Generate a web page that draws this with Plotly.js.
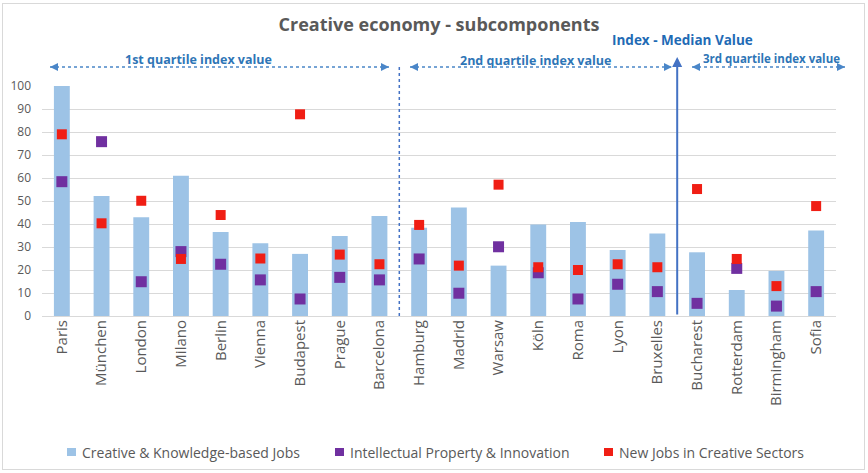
<!DOCTYPE html>
<html>
<head>
<meta charset="utf-8">
<script src="https://cdn.plot.ly/plotly-3.0.1.min.js"></script>
<style>
html,body{margin:0;padding:0;background:#fff;}
#wrap{position:relative;width:868px;height:473px;}
#chart{width:868px;height:473px;}
#frame{position:absolute;left:2px;top:3px;width:861px;height:465px;border:1px solid #d9d9d9;pointer-events:none;}
</style>
</head>
<body>
<div id="wrap"><div id="chart"></div><div id="frame"></div></div>
<script>
const cities = ["Paris","München","London","Milano","Berlin","Vienna","Budapest","Prague","Barcelona","Hamburg","Madrid","Warsaw","Köln","Roma","Lyon","Bruxelles","Bucharest","Rotterdam","Birmingham","Sofia"];
const creativeJobs = [100,52.2,42.9,61,36.5,31.6,27,34.8,43.5,38.4,47.2,21.9,39.8,40.9,28.7,35.9,27.7,11.3,19.6,37.2];
const ipInnovation = [58.4,75.8,14.9,28,22.5,15.7,7.4,16.8,15.7,24.8,9.9,30.1,18.8,7.4,13.8,10.6,5.5,20.7,4.3,10.6];
const newJobs = [79,40.3,50.1,24.8,43.9,25,87.7,26.7,22.5,39.6,21.9,57.1,21.2,20,22.5,21.2,55.2,24.8,13,47.8];
const seriesNames = ["Creative & Knowledge-based Jobs","Intellectual Property & Innovation","New Jobs in Creative Sectors"];
const seriesColors = ["#9DC3E6","#7030A0","#F01E14"];
const yTicks = [0,10,20,30,40,50,60,70,80,90,100];

const FONT = "'Open Sans', 'Noto Sans', sans-serif";
const BLUE = "#2E75B6";
const n = cities.length;
const px = i => (i + 0.5) / n; // category index -> paper x
const q1End = 8.5, medianPos = 15.5;

// plot-area geometry (for placing items outside the plot in paper units)
const L = 42, R = 32, T = 86, B = 157, W = 868, H = 473;
const pw = W - L - R, ph = H - T - B;
const pxX = v => (v - L) / pw;
const pxY = v => (H - B - v) / ph;

const traces = [
  {type:"bar", x:cities, y:creativeJobs, name:seriesNames[0], marker:{color:seriesColors[0]}, width:0.4},
  {type:"scatter", mode:"markers", x:cities, y:ipInnovation, name:seriesNames[1], marker:{symbol:"square", size:11, color:seriesColors[1]}},
  {type:"scatter", mode:"markers", x:cities, y:newJobs, name:seriesNames[2], marker:{symbol:"square", size:10, color:seriesColors[2]}}
];

const arrowY = pxY(67);
function dottedArrow(x0, x1, y){
  return {type:"line", xref:"paper", yref:"paper", x0:x0, x1:x1, y0:y, y1:y, line:{color:"#4A86C8", width:1.5, dash:"dot"}};
}
function head(x, y, dir){
  return {xref:"paper", yref:"paper", x:x, y:y, ax:dir*-9, ay:0, text:"", showarrow:true, arrowhead:2, arrowsize:1, arrowwidth:1.6, arrowcolor:"#4A86C8"};
}
function label(text, cx, cy, size, color){
  return {xref:"paper", yref:"paper", x:pxX(cx), y:pxY(cy), xanchor:"center", yanchor:"middle", text:text, showarrow:false, font:{size:size, color:color, family:FONT}};
}
const a1 = [pxX(50), pxX(389)], a2 = [pxX(410), pxX(672)], a3 = [pxX(692), pxX(845)];

// custom legend (swatch x positions and text start in pixels)
const legendY = 452;
const legendSw = [67, 335, 604];
const legendShapes = seriesColors.map((c, k) => ({type:"rect", xref:"paper", yref:"paper", x0:pxX(legendSw[k]), x1:pxX(legendSw[k] + 9), y0:pxY(legendY + 4), y1:pxY(legendY - 4), fillcolor:c, line:{width:0}}));
const legendText = seriesNames.map((s, k) => ({xref:"paper", yref:"paper", x:pxX(legendSw[k] + 13), y:pxY(legendY), xanchor:"left", yanchor:"middle", text:s, showarrow:false, font:{size:14, color:"#595959", family:FONT}}));

const layout = {
  width:W, height:H,
  margin:{l:L, r:R, t:T, b:B},
  paper_bgcolor:"#fff", plot_bgcolor:"#fff",
  font:{family:FONT, color:"#595959"},
  title:{text:"<b>Creative economy - subcomponents</b>", x:439/W, xanchor:"center", y:1 - 25/H, yanchor:"middle", font:{size:18, color:"#595959", family:FONT}},
  showlegend:false,
  bargap:0.6,
  xaxis:{type:"category", range:[-0.5, n-0.5], tickangle:-90, tickfont:{size:15, color:"#595959"}, showgrid:false, showline:false, ticks:"", fixedrange:true},
  yaxis:{range:[0,100], tickvals:yTicks, ticktext:yTicks.map(String), tickfont:{size:12, color:"#595959"}, gridcolor:"#D9D9D9", zerolinecolor:"#D9D9D9", showline:false, ticks:"", ticklabelstandoff:10, fixedrange:true},
  shapes:[
    {type:"line", xref:"paper", yref:"paper", x0:px(q1End), x1:px(q1End), y0:0, y1:pxY(66), line:{color:"#4472C4", width:1.5, dash:"dot"}},
    dottedArrow(a1[0], a1[1], arrowY),
    dottedArrow(a2[0], a2[1], arrowY),
    dottedArrow(a3[0], a3[1], arrowY)
  ].concat(legendShapes),
  annotations:[
    head(a1[0], arrowY, -1), head(a1[1], arrowY, 1),
    head(a2[0], arrowY, -1), head(a2[1], arrowY, 1),
    head(a3[0], arrowY, -1), head(a3[1], arrowY, 1),
    {xref:"paper", yref:"paper", x:px(medianPos), y:pxY(57), ax:0, ay:259, axref:"pixel", ayref:"pixel", text:"", showarrow:true, arrowhead:2, arrowsize:1, arrowwidth:2, arrowcolor:"#4472C4"},
    label("<b>1st quartile index value</b>", 198, 59, 12.5, BLUE),
    label("<b>2nd quartile index value</b>", 535, 60, 12.5, BLUE),
    label("<b>3rd quartile index value</b>", 771, 58, 11.5, BLUE),
    label("<b>Index - Median Value</b>", 682, 40, 13.5, "#1F6BB5")
  ].concat(legendText)
};

Plotly.newPlot("chart", traces, layout, {displayModeBar:false, staticPlot:true});
</script>
</body>
</html>
